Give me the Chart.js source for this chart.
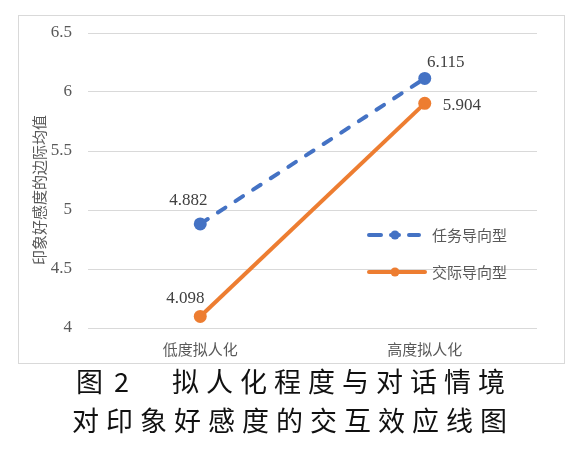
<!DOCTYPE html>
<html><head><meta charset="utf-8">
<script src="https://cdn.jsdelivr.net/npm/chart.js@4"></script>
<style>
html,body{margin:0;padding:0;background:#fff;width:585px;height:455px;overflow:hidden;}
#box{position:absolute;left:18px;top:15px;width:547px;height:349px;border:1px solid #d9d9d9;box-sizing:border-box;}
.cap{position:absolute;font-family:"Noto Sans CJK SC";font-size:27px;line-height:30px;color:#111;letter-spacing:7px;white-space:nowrap;}
</style></head>
<body>
<div id="box"><canvas id="c" width="545" height="347"></canvas></div>
<div class="cap" style="left:76px;top:366px;">图</div>
<div class="cap" style="left:114px;top:366px;">2</div>
<div class="cap" style="left:172px;top:366px;">拟人化程度与对话情境</div>
<div class="cap" style="left:72px;top:405px;">对印象好感度的交互效应线图</div>
<script>
const categories = ["低度拟人化", "高度拟人化"];
const seriesNames = ["任务导向型", "交际导向型"];
const taskValues = [4.882, 6.115];
const socialValues = [4.098, 5.904];
const yTicks = [4, 4.5, 5, 5.5, 6, 6.5];
const yTitle = "印象好感度的边际均值";

const blue = "#4472C4", orange = "#ED7D31";

const labelPlugin = {
  id: "labels",
  afterDatasetsDraw(chart) {
    const ctx = chart.ctx;
    ctx.save();
    ctx.save();
    ctx.translate(20, 174);
    ctx.rotate(-Math.PI / 2);
    ctx.font = "15px 'Noto Sans CJK SC'";
    ctx.fillStyle = "#595959";
    ctx.textAlign = "center";
    ctx.textBaseline = "middle";
    ctx.fillText(yTitle, 0, 0);
    ctx.restore();

    ctx.font = "17px 'Liberation Serif'";
    ctx.fillStyle = "#404040";
    ctx.textBaseline = "middle";
    ctx.textAlign = "center";
    const offs = [
      [[-12, -23], [21, -16]],
      [[-15, -18], [37, 2]]
    ];
    chart.data.datasets.forEach((ds, di) => {
      const meta = chart.getDatasetMeta(di);
      meta.data.forEach((pt, i) => {
        const o = offs[di][i];
        ctx.fillText(ds.data[i].toFixed(3), pt.x + o[0], pt.y + o[1]);
      });
    });
    const lx = 348;
    const rows = [219, 256];
    const cols = [blue, orange];
    chart.data.datasets.forEach((ds, di) => {
      const y = rows[di];
      ctx.strokeStyle = cols[di];
      ctx.fillStyle = cols[di];
      ctx.lineWidth = 4;
      ctx.lineCap = "round";
      ctx.beginPath();
      if (di === 0) {
        ctx.moveTo(lx + 2, y); ctx.lineTo(lx + 14, y);
        ctx.moveTo(lx + 24, y); ctx.lineTo(lx + 32, y);
        ctx.moveTo(lx + 42, y); ctx.lineTo(lx + 52, y);
      } else {
        ctx.moveTo(lx + 2, y); ctx.lineTo(lx + 58, y);
      }
      ctx.stroke();
      ctx.beginPath(); ctx.arc(lx + 28, y, 4.5, 0, Math.PI * 2); ctx.fill();
      ctx.fillStyle = "#595959";
      ctx.font = "15px 'Noto Sans CJK SC'";
      ctx.textAlign = "left";
      ctx.fillText(ds.label, lx + 65, y);
    });
    ctx.restore();
  }
};

new Chart(document.getElementById("c"), {
  type: "line",
  data: {
    labels: categories,
    datasets: [
      { label: seriesNames[0], data: taskValues, borderColor: blue, backgroundColor: blue,
        borderWidth: 4, borderDash: [9, 12], borderCapStyle: "round",
        pointRadius: 6.5, pointHoverRadius: 6.5, pointBorderWidth: 0 },
      { label: seriesNames[1], data: socialValues, borderColor: orange, backgroundColor: orange,
        borderWidth: 4, pointRadius: 6.5, pointHoverRadius: 6.5, pointBorderWidth: 0 }
    ]
  },
  options: {
    responsive: false,
    animation: false,
    devicePixelRatio: 1,
    layout: { padding: { top: 17, right: 27, left: 0, bottom: 0 } },
    plugins: { legend: { display: false }, tooltip: { enabled: false } },
    scales: {
      x: {
        offset: true,
        grid: { display: false },
        border: { display: false },
        ticks: { color: "#595959", font: { family: "Noto Sans CJK SC", size: 15 }, padding: 4 },
        afterFit(s) { s.height = 35; s.paddingLeft = 0; s.paddingRight = 0; }
      },
      y: {
        min: 4, max: 6.5,
        afterBuildTicks(s) { s.ticks = yTicks.map(v => ({ value: v })); },
        grid: { color: "#d9d9d9", lineWidth: 1, drawTicks: false },
        border: { display: false },
        ticks: { color: "#595959", font: { family: "Liberation Serif", size: 17 }, padding: 16,
          callback: v => String(v) },
        afterFit(s) { s.width = 69; s.paddingTop = 0; s.paddingBottom = 0; }
      }
    }
  },
  plugins: [labelPlugin]
});
</script>
</body></html>
